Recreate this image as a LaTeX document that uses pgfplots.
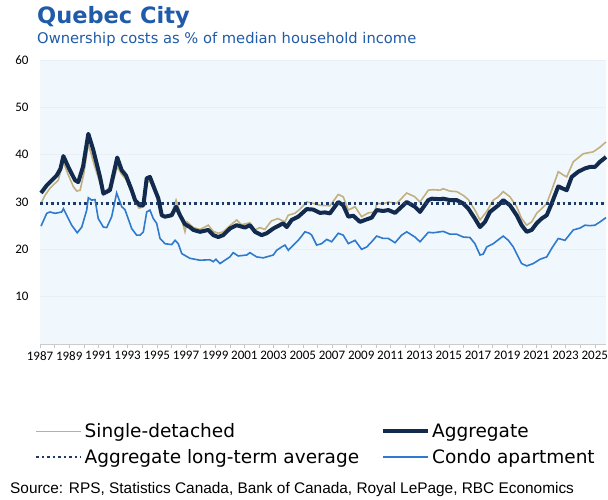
\documentclass[border=0pt]{standalone}
\usepackage{pgfplots}
\pgfplotsset{compat=1.18}
\usepackage{fontspec}
\setmainfont{DejaVu Sans}
\newfontfamily\tickfont{Carlito}
\newfontfamily\srcfont{Liberation Sans}
\definecolor{titleblue}{HTML}{1F5BA8}
\definecolor{navy}{HTML}{112A4E}
\definecolor{tan}{HTML}{C2B07E}
\definecolor{condo}{HTML}{2F7ACC}
\definecolor{dotnavy}{HTML}{1E3A66}
\definecolor{bgblue}{HTML}{F1F8FD}
\definecolor{gridc}{HTML}{E8F0F6}
\begin{document}
\begin{tikzpicture}[x=1pt,y=1pt]
\useasboundingbox (0,0) rectangle (608,499);
\node[anchor=west,inner sep=0,text=titleblue,font=\bfseries\fontsize{22.5}{24}\selectfont] at (37,482) {Quebec City};
\node[anchor=west,inner sep=0,text=titleblue,font=\fontsize{14.7}{16}\selectfont] at (37,460) {Ownership costs as \% of median household income};
\begin{axis}[
  at={(40pt,155pt)}, anchor=south west,
  width=566pt, height=284pt, scale only axis,
  xmin=1987, xmax=2025.77, ymin=0, ymax=60,
  axis background/.style={fill=bgblue},
  axis x line*=bottom, axis y line*=left,
  x axis line style={draw=gray!40},
  y axis line style={draw=none},
  xtick={1987,1989,...,2025}, minor xtick={1988,1990,...,2024},
  tick align=outside, major tick length=4pt, minor tick length=4pt,
  xtick style={draw=gray!45, thin},
  ytick style={draw=none},
  ytick={10,20,...,60},
  ymajorgrids, grid style={draw=gridc, line width=0.6pt},
  /pgf/number format/1000 sep={},
  /pgf/number format/assume math mode=true,
  ticklabel style={font=\tickfont\fontsize{13}{13}\selectfont},
  yticklabel style={xshift=-4pt},
  clip=false,
  legend columns=2,
  legend cell align=left,
  legend style={at={(-0.0088,-0.2726)}, anchor=north west, draw=none, fill=none,
    inner sep=0pt, font=\fontsize{18.5}{20}\selectfont,
    /tikz/every even column/.append style={column sep=20pt},
    row sep=6pt},
  legend image code/.code={\draw[#1] (0pt,0pt) -- (45pt,0pt);},
]
\addplot[tan, line width=1.6pt] coordinates {
(1987.07,29.7) (1987.34,31.4) (1987.68,32.9) (1988.25,34.6) (1988.60,38.5) (1988.94,35.7)
(1989.29,33.2) (1989.52,32.3) (1989.75,32.5) (1990.00,36.0) (1990.31,42.3) (1990.70,38.0)
(1991.11,34.0) (1991.34,31.5) (1991.64,32.8) (1991.90,33.0) (1992.29,37.5) (1992.60,35.8)
(1992.89,34.8) (1993.28,32.0) (1993.51,30.0) (1993.78,28.7) (1994.08,29.0) (1994.31,34.0)
(1994.53,34.5) (1994.88,32.0) (1995.10,30.5) (1995.34,27.0) (1995.56,27.0) (1996.02,27.5)
(1996.32,30.4) (1996.59,27.8) (1996.93,23.7) (1997.08,25.8) (1997.50,24.6) (1997.96,24.2)
(1998.53,25.1) (1998.87,23.8) (1999.21,23.4) (1999.55,23.7) (2000.01,25.0) (2000.47,26.2)
(2000.80,25.2) (2001.38,25.6) (2001.73,24.1) (2002.06,24.6) (2002.40,24.2) (2002.85,26.0)
(2003.30,26.5) (2003.77,25.8) (2004.00,27.2) (2004.45,27.6) (2004.81,28.5) (2005.27,30.0)
(2005.72,29.7) (2006.18,29.3) (2006.86,29.2) (2007.43,31.6) (2007.77,31.1) (2008.12,28.3)
(2008.58,29.0) (2009.03,26.9) (2009.49,27.7) (2009.95,27.9) (2010.06,29.7) (2010.51,29.6)
(2010.86,30.0) (2011.43,29.7) (2012.12,31.9) (2012.68,31.1) (2013.03,30.0) (2013.60,32.5)
(2013.94,32.6) (2014.40,32.5) (2014.62,32.8) (2015.08,32.3) (2015.54,32.2) (2015.99,31.4)
(2016.34,30.5) (2016.79,28.3) (2017.14,26.2) (2017.60,28.0) (2018.05,30.4) (2018.39,31.1)
(2018.73,32.2) (2019.19,31.1) (2019.65,29.0) (2019.99,26.5) (2020.34,25.1) (2020.68,25.8)
(2021.02,27.6) (2021.36,28.6) (2021.71,29.7) (2022.05,32.5) (2022.50,36.4) (2022.84,35.7)
(2023.08,35.3) (2023.53,38.5) (2024.21,40.2) (2024.90,40.6) (2025.36,41.6) (2025.77,42.7)
};
\addlegendentry{Single-detached}
\addplot[navy, line width=4pt, line join=round] coordinates {
(1987.07,31.9) (1987.46,33.5) (1988.14,35.6) (1988.40,37.0) (1988.60,39.7) (1989.00,37.0)
(1989.40,34.6) (1989.62,34.2) (1989.95,37.5) (1990.31,44.4) (1990.65,41.0) (1991.11,35.3)
(1991.34,31.8) (1991.79,32.5) (1992.29,39.4) (1992.60,36.7) (1992.89,35.6) (1993.28,32.5)
(1993.51,30.4) (1993.85,29.3) (1994.08,29.3) (1994.31,35.0) (1994.53,35.3) (1994.88,32.5)
(1995.10,30.8) (1995.34,27.2) (1995.56,26.9) (1996.02,27.2) (1996.32,29.0) (1996.59,27.2)
(1996.93,25.3) (1997.27,24.7) (1997.50,24.1) (1997.96,23.7) (1998.53,24.1) (1998.87,23.0)
(1999.21,22.6) (1999.55,23.0) (2000.01,24.4) (2000.47,25.1) (2001.04,24.6) (2001.38,25.1)
(2001.73,23.7) (2002.18,23.0) (2002.53,23.4) (2002.98,24.4) (2003.66,25.5) (2003.90,24.7)
(2004.24,26.2) (2004.69,26.9) (2005.27,28.5) (2005.72,28.4) (2006.18,27.7) (2006.52,27.8)
(2006.86,27.6) (2007.43,30.0) (2007.77,29.3) (2008.12,26.9) (2008.46,27.1) (2008.92,25.8)
(2009.26,26.2) (2009.72,26.7) (2010.06,28.3) (2010.51,28.1) (2010.86,28.3) (2011.32,27.7)
(2012.12,30.0) (2012.68,29.0) (2013.03,27.9) (2013.60,30.4) (2013.83,30.7) (2014.40,30.6)
(2014.62,30.7) (2015.08,30.4) (2015.54,30.4) (2015.99,29.7) (2016.34,28.6) (2016.79,26.5)
(2017.14,24.7) (2017.48,25.8) (2017.82,27.9) (2018.39,29.3) (2018.73,30.4) (2019.19,29.3)
(2019.65,27.2) (2019.99,25.1) (2020.34,23.7) (2020.68,24.1) (2021.02,25.5) (2021.36,26.5)
(2021.71,27.2) (2022.05,29.7) (2022.50,33.3) (2022.84,32.8) (2023.08,32.5) (2023.42,35.3)
(2023.87,36.4) (2024.33,37.1) (2024.67,37.4) (2025.01,37.4) (2025.36,38.5) (2025.77,39.5)
};
\addlegendentry{Aggregate}
\addplot[dotnavy, line width=2.5pt, dash pattern=on 2.5pt off 3pt] coordinates {(1987,29.7) (2025.77,29.7)};
\addlegendentry{Aggregate long-term average}
\addplot[condo, line width=1.6pt] coordinates {
(1987.07,24.9) (1987.46,27.6) (1987.68,27.9) (1988.03,27.6) (1988.49,27.9) (1988.60,28.6)
(1988.83,27.2) (1989.17,25.1) (1989.55,23.5) (1989.86,24.7) (1990.20,28.3) (1990.31,30.9)
(1990.54,30.4) (1990.77,30.5) (1990.99,26.5) (1991.34,24.7) (1991.57,24.6) (1991.91,26.9)
(1992.25,31.9) (1992.60,29.0) (1992.82,28.4) (1993.28,24.4) (1993.62,23.0) (1993.85,23.0)
(1994.08,23.7) (1994.31,27.9) (1994.53,28.3) (1994.76,26.5) (1994.99,25.5) (1995.22,22.3)
(1995.56,21.2) (1996.02,21.0) (1996.25,21.9) (1996.47,21.2) (1996.71,19.1) (1997.27,18.1)
(1997.96,17.7) (1998.64,17.8) (1998.87,17.4) (1999.05,17.9) (1999.33,17.0) (2000.01,18.4)
(2000.23,19.3) (2000.58,18.6) (2001.16,18.8) (2001.38,19.3) (2001.84,18.4) (2002.29,18.2)
(2002.98,18.8) (2003.21,19.8) (2003.55,20.5) (2003.78,20.9) (2004.01,19.8) (2004.35,20.9)
(2004.69,21.9) (2005.15,23.7) (2005.45,23.4) (2005.61,23.0) (2005.95,20.9) (2006.29,21.2)
(2006.64,22.1) (2006.98,21.6) (2007.43,23.4) (2007.77,23.0) (2008.12,21.2) (2008.58,21.9)
(2009.03,20.0) (2009.38,20.5) (2009.72,21.6) (2010.06,22.8) (2010.51,22.3) (2010.86,22.3)
(2011.32,21.4) (2011.77,23.0) (2012.12,23.7) (2012.68,22.6) (2013.03,21.6) (2013.60,23.6)
(2013.94,23.5) (2014.62,23.8) (2015.08,23.2) (2015.54,23.2) (2015.99,22.6) (2016.45,22.5)
(2016.79,21.2) (2017.14,18.8) (2017.36,19.0) (2017.60,20.5) (2018.05,21.2) (2018.51,22.3)
(2018.73,22.8) (2019.08,21.9) (2019.42,20.5) (2019.76,18.4) (2019.99,17.0) (2020.34,16.5)
(2020.79,17.0) (2021.25,17.9) (2021.71,18.4) (2022.05,20.2) (2022.50,22.3) (2022.96,21.9)
(2023.53,24.1) (2023.99,24.5) (2024.33,25.1) (2024.67,25.0) (2025.01,25.1) (2025.36,25.8)
(2025.77,26.7)
};
\addlegendentry{Condo apartment}
\end{axis}
\node[anchor=west,inner sep=0,font=\srcfont\fontsize{15.4}{17}\selectfont] at (10,9) {Source: RPS, Statistics Canada, Bank of Canada, Royal LePage, RBC Economics};
\end{tikzpicture}
\end{document}
